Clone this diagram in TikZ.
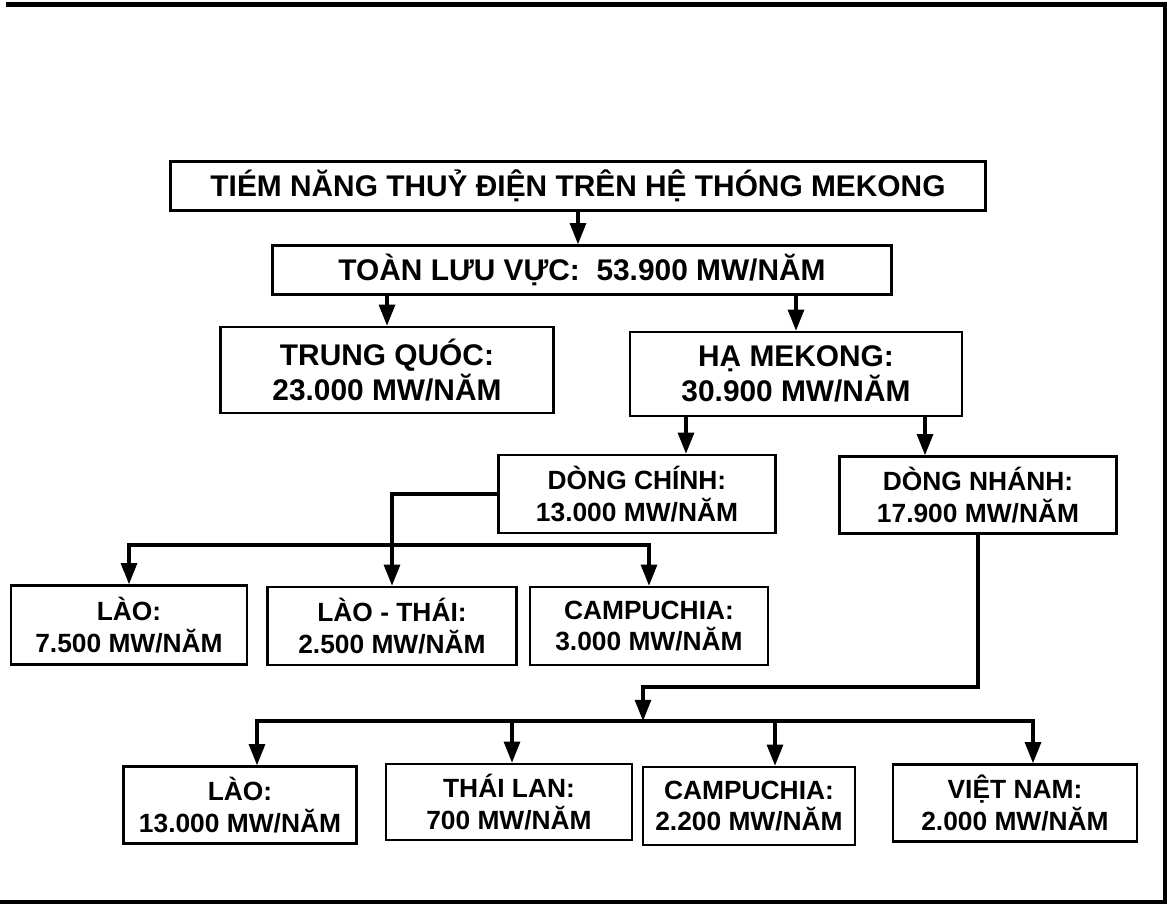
\documentclass[tikz,border=0pt]{standalone}
\usepackage{fontspec}
\setmainfont{Liberation Sans}
\usetikzlibrary{arrows.meta,calc,positioning}
\tikzset{
    flow box/.style={
        draw,line width=1.4pt,
        fill=white,align=center,inner sep=0pt,
        font=\bfseries\fontsize{17}{20}\selectfont
    },
    small box/.style={flow box,font=\bfseries\fontsize{15}{18}\selectfont},
    flow/.style={line width=1.9pt},
    >={Triangle[width=9pt,length=12pt]}
}
\begin{document}
\begin{tikzpicture}[x=0.02cm,y=-0.02cm]
\useasboundingbox (0,0) rectangle (1167,904);
% open frame
\draw[line width=0.09cm] (6,4.5) -- (1165,4.5) -- (1165,902) -- (0,902);

% top levels
\node[flow box,minimum width=16.3cm,minimum height=0.98cm] (title) at (578,186)
    {TIÉM NĂNG THUỶ ĐIỆN TRÊN HỆ THÓNG MEKONG};
\node[flow box,minimum width=12.38cm,minimum height=0.98cm] (whole) at (582,270)
    {TOÀN LƯU VỰC:\ \ 53.900 MW/NĂM};
\node[flow box,minimum width=6.66cm,minimum height=1.72cm] (china) at (387,370)
    {TRUNG QUÓC:\\23.000 MW/NĂM};
\node[flow box,minimum width=6.64cm,minimum height=1.68cm] (lower) at (796,374)
    {HẠ MEKONG:\\30.900 MW/NĂM};
\node[small box,minimum width=5.54cm,minimum height=1.56cm] (mainstream) at (637,494)
    {DÒNG CHÍNH:\\13.000 MW/NĂM};
\node[small box,minimum width=5.54cm,minimum height=1.54cm] (tributary) at (978,495)
    {DÒNG NHÁNH:\\17.900 MW/NĂM};

% main stream
\node[small box,minimum width=4.72cm,minimum height=1.58cm] (lao1) at (129,625)
    {LÀO:\\7.500 MW/NĂM};
\node[small box,minimum width=4.98cm,minimum height=1.56cm] (laothai) at (392,626)
    {LÀO - THÁI:\\2.500 MW/NĂM};
\node[small box,minimum width=4.76cm,minimum height=1.56cm] (cambodia1) at (649,626)
    {CAMPUCHIA:\\3.000 MW/NĂM};

% tributaries
\node[small box,minimum width=4.66cm,minimum height=1.54cm] (lao2) at (240,805)
    {LÀO:\\13.000 MW/NĂM};
\node[small box,minimum width=4.92cm,minimum height=1.52cm] (thai) at (509,802)
    {THÁI LAN:\\700 MW/NĂM};
\node[small box,minimum width=4.24cm,minimum height=1.56cm] (cambodia2) at (749,806)
    {CAMPUCHIA:\\2.200 MW/NĂM};
\node[small box,minimum width=4.88cm,minimum height=1.54cm] (vietnam) at (1015,803)
    {VIỆT NAM:\\2.000 MW/NĂM};

\coordinate (ms in) at ([xshift=0.98cm]mainstream.north);
\coordinate (tb in) at ([xshift=-1.06cm]tributary.north);
\coordinate (split1) at (392,545);
\coordinate (split2) at (643,721);

\draw[flow,->] (title.south) -- (title.south |- whole.north);
\draw[flow,->] (china.north |- whole.south) -- (china.north);
\draw[flow,->] (lower.north |- whole.south) -- (lower.north);
\draw[flow,->] (lower.south -| ms in) -- (ms in);
\draw[flow,->] (lower.south -| tb in) -- (tb in);

\draw[flow,->] (mainstream.west) -| (laothai.north);
\draw[flow,->] (split1) -| (lao1.north);
\draw[flow,->] (split1) -| (cambodia1.north);

\draw[flow,->] (tributary.south) |- ($(split2)+(0,-34)$) -- (split2);
\foreach \n/\dx in {lao2/0.34,thai/0.06,cambodia2/0.52,vietnam/0.36}
    \draw[flow,->] (split2) -| ([xshift=\dx cm]\n.north);
\end{tikzpicture}
\end{document}
